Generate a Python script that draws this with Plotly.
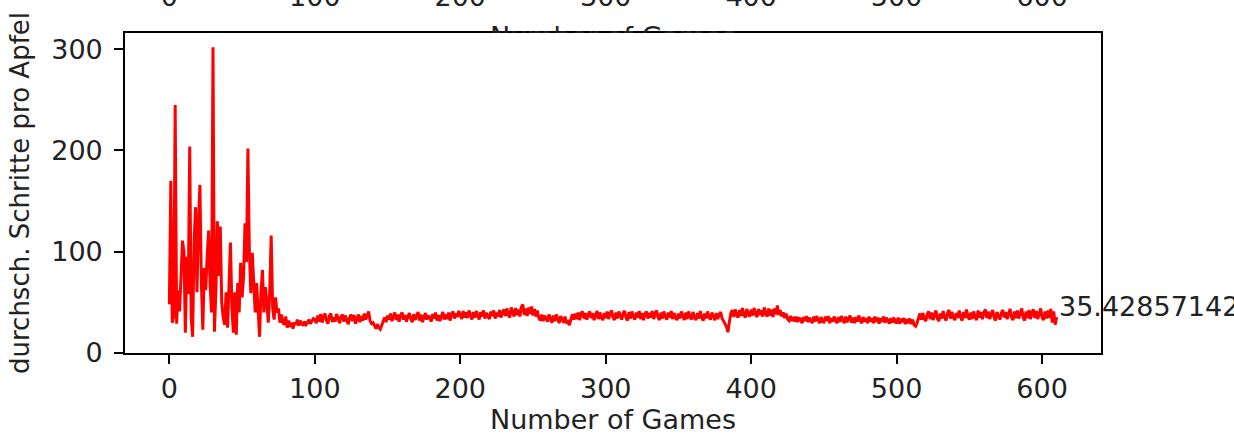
import plotly.graph_objects as go

# Average steps per apple for each game
steps = [
    # 0-99: early, unstable phase
    48, 170, 30, 36, 245, 29, 62, 41, 75, 111,
    100, 20, 95, 58, 204, 35, 16, 110, 144, 60,
    130, 166, 70, 23, 84, 62, 96, 121, 68, 40,
    302, 21, 62, 130, 76, 125, 50, 35, 28, 60,
    25, 70, 109, 45, 20, 60, 18, 69, 40, 89,
    55, 75, 128, 90, 202, 100, 59, 99, 65, 40,
    69, 35, 16, 60, 82, 40, 65, 50, 30, 60,
    116, 45, 33, 55, 40, 44, 30, 38, 30, 28,
    36, 25, 32, 26, 30, 24, 30, 28, 33, 27,
    32, 29, 27, 31, 28, 30, 33, 29, 31, 34,
    # 100-609: settled phase
    33, 29.5, 37, 31, 38.5, 30, 36, 39, 32, 29,
    36.5, 39, 30.5, 35, 31, 38.5, 34, 29.5, 36, 38,
    31, 37, 32, 28.5, 35.5, 38, 31.5, 37.5, 29, 35,
    38, 30.5, 36.5, 32, 39, 33, 37.5, 41, 31.5, 29,
    30, 26.5, 24, 28.5, 25, 23.5, 27.5, 31, 35, 30.5,
    37, 33, 39, 31.5, 36.5, 40, 32.5, 38, 31, 37.5,
    40, 33, 37.5, 31, 36, 39.5, 33.5, 30.5, 38.5, 32.5,
    36.5, 40.5, 32, 38, 30.5, 36, 39.5, 33, 37, 35,
    31, 38.5, 34, 40, 32, 37.5, 31.5, 36, 40.5, 33,
    38, 33.5, 40, 32, 38.5, 41, 34, 39, 35.5, 41.5,
    38, 33.5, 41.5, 35, 40, 34.5, 42, 37, 33, 40.5,
    35, 41.5, 37, 33, 40.5, 36, 42, 34, 39.5, 37,
    33.5, 41, 36.5, 42, 34, 40, 36, 42.5, 35, 40,
    43, 36.5, 44, 38, 35, 45, 39, 36, 44.5, 37.5,
    43, 36, 45.5, 48, 37.5, 44, 36.5, 45, 38.5, 46,
    37, 43.5, 36, 42, 34.5, 32, 38, 31.5, 37, 34,
    31, 38, 33.5, 30, 37, 31.5, 38, 33, 29.5, 36.5,
    32.5, 30, 36, 29.5, 31, 27.5, 33, 38, 33, 39,
    33.5, 40, 32.5, 39, 41, 34, 39.5, 33, 38, 41,
    34.5, 39.5, 32.5, 38.5, 41.5, 33.5, 40, 35, 32.5, 39.5,
    34.5, 41, 33.5, 39, 42, 35, 32.5, 40, 34, 41,
    36, 33, 39.5, 41.5, 34.5, 32, 40.5, 34, 41, 35.5,
    33, 40, 35, 41.5, 33.5, 39.5, 32.5, 38.5, 41, 34,
    39.5, 35, 41.5, 33.5, 39, 42, 35, 32.5, 40, 34,
    41, 35.5, 33, 40, 35, 41.5, 33.5, 39.5, 35, 32.5,
    39, 34, 41, 35.5, 32.5, 40, 33.5, 41, 35.5, 33,
    40.5, 35, 32.5, 39.5, 34, 41.5, 35, 32, 39, 34,
    41, 35.5, 33, 40, 35, 32.5, 39.5, 33.5, 38, 40.5,
    34, 32, 29, 26, 20.5, 30.5, 39, 42.5, 35.5, 43,
    37.5, 35, 42.5, 36.5, 44.5, 37.5, 35, 43.5, 38, 36,
    43, 37, 44.5, 38.5, 35.5, 43.5, 37.5, 42, 36, 45,
    38.5, 36, 44, 37, 43, 35.5, 44, 38, 47, 37.5,
    42.5, 36, 40, 34.5, 39, 33.5, 32, 36.5, 31.5, 35.5,
    31, 36, 30.5, 35, 33, 29.5, 35.5, 31.5, 36.5, 30.5,
    35, 32, 29.5, 36, 31, 36.5, 32.5, 29.5, 35.5, 31,
    30.5, 36, 31.5, 36.5, 29.5, 34.5, 31, 36, 32, 29.5,
    35.5, 30.5, 36.5, 32.5, 29.5, 36, 30.5, 34, 37, 30,
    35, 29.5, 35.5, 31, 37, 32, 29.5, 35.5, 31, 34.5,
    29.5, 36, 31, 34.5, 29.5, 36, 30.5, 35, 29, 34.5,
    31, 36, 30, 35, 31, 29, 34.5, 30, 35, 31,
    29.5, 35, 29, 34, 30.5, 34.5, 28.5, 33.5, 29.5, 34,
    28.5, 33, 27.5, 26.5, 29.5, 35, 39, 33, 39.5, 34,
    31.5, 38, 41, 33.5, 40, 32.5, 38.5, 42, 34, 31.5,
    39, 34, 41.5, 35, 32, 39.5, 42.5, 34, 40.5, 35,
    32.5, 39.5, 34.5, 42, 35.5, 32, 40.5, 34.5, 43, 36,
    33, 40, 33.5, 41, 35.5, 32.5, 42, 35, 40.5, 33.5,
    40, 43, 34.5, 41, 33.5, 39.5, 42.5, 35, 32, 40.5,
    35.5, 33, 39.5, 42.5, 35, 40.5, 33.5, 39, 43.5, 35,
    32.5, 41, 34.5, 42, 34, 39.5, 44, 35, 32, 41,
    34.5, 42.5, 33.5, 40, 43, 34.5, 41.5, 33.5, 39.5, 44,
    35, 32.5, 41, 34, 42, 34.5, 43.5, 30, 41, 28,
    # 610: final game
    35.42857142857143,
]
games = list(range(len(steps)))

x_ticks = [0, 100, 200, 300, 400, 500, 600]
y_ticks = [0, 100, 200, 300]
x_title = "Number of Games"
y_title = "durchsch. Schritte pro Apfel"

FONT = "DejaVu Sans"
TEXT = "#222222"
FS = 27
X_RANGE = [-30.5, 640.5]
MAIN_TOP = 320 / 353  # top of the main panel within the paper

fig = go.Figure()

fig.add_trace(go.Scatter(
    x=games, y=steps, mode="lines",
    line=dict(color="#ff0000", width=3),
    xaxis="x", yaxis="y", showlegend=False, hoverinfo="skip",
))

# remnants of the panel above: its tick labels and axis title, clipped
fig.add_trace(go.Scatter(
    x=x_ticks, y=[1.03] * len(x_ticks), mode="text",
    text=[str(t) for t in x_ticks],
    textfont=dict(family=FONT, size=FS, color=TEXT),
    textposition="middle center", cliponaxis=True,
    xaxis="x2", yaxis="y2", showlegend=False, hoverinfo="skip",
))
fig.add_trace(go.Scatter(
    x=[305], y=[-0.19], mode="text", text=[x_title],
    textfont=dict(family=FONT, size=FS, color=TEXT),
    textposition="middle center", cliponaxis=True,
    xaxis="x2", yaxis="y2", showlegend=False, hoverinfo="skip",
))

axis_common = dict(
    showline=True, linecolor="black", linewidth=1.6, mirror=True,
    ticks="outside", ticklen=9, tickwidth=1.6, tickcolor="black",
    showgrid=False, zeroline=False, automargin=False,
    tickfont=dict(family=FONT, size=FS, color=TEXT),
)

fig.update_layout(
    template="none",
    width=1234, height=435,
    margin=dict(l=125, r=133, t=0, b=82, pad=0, autoexpand=False),
    paper_bgcolor="white", plot_bgcolor="white",
    font=dict(family=FONT, size=FS, color=TEXT),
    showlegend=False,
    xaxis=dict(
        domain=[0, 1], range=X_RANGE, tickvals=x_ticks, anchor="y",
        ticklabelstandoff=2,
        title=dict(text=x_title, font=dict(family=FONT, size=FS, color=TEXT), standoff=6),
        **axis_common,
    ),
    yaxis=dict(
        domain=[0, MAIN_TOP], range=[0, 316], tickvals=y_ticks, anchor="x",
        ticklabelstandoff=6,
        title=dict(text=y_title, font=dict(family=FONT, size=26, color=TEXT), standoff=14),
        **axis_common,
    ),
    xaxis2=dict(domain=[0, 1], range=X_RANGE, anchor="y2", visible=False),
    yaxis2=dict(domain=[MAIN_TOP, 1], range=[0, 1], anchor="x2", visible=False),
)

# value of the final game written next to the line's end
fig.add_annotation(
    x=games[-1], y=steps[-1], xref="x", yref="y",
    text=str(steps[-1]), showarrow=False,
    xanchor="left", yanchor="bottom", xshift=0, yshift=-7,
    font=dict(family=FONT, size=FS, color=TEXT),
)

fig.write_html("out.html")
